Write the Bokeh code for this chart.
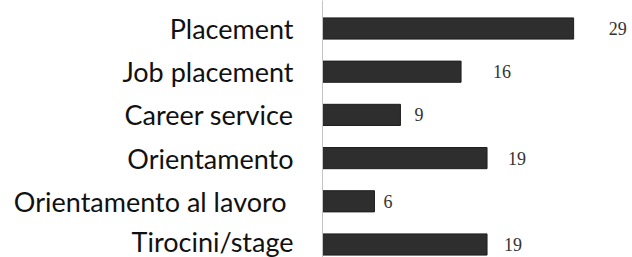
from bokeh.plotting import figure
from bokeh.models import Range1d, FixedTicker, ColumnDataSource
from bokeh.embed import file_html
from bokeh.resources import INLINE
from bokeh.core.properties import value

categories = ["Placement", "Job placement", "Career service", "Orientamento",
              "Orientamento al lavoro ", "Tirocini/stage"]
counts = [29, 16, 9, 19, 6, 19]
label_gap_px = [35, 32, 14, 21, 9, 17]

pos = list(range(len(categories)))
src = ColumnDataSource(dict(y=pos, v=counts, t=[str(c) for c in counts], dx=label_gap_px))

W, H = 632, 257
left = 322
top_c = 28.0
step = 43.2
px_per_unit = 8.66
p = figure(width=W, height=H, output_backend="svg", toolbar_location=None,
           x_range=Range1d(0, (W - left) / px_per_unit),
           y_range=Range1d((H - top_c) / step, -top_c / step),
           min_border_left=left, min_border_right=0, min_border_top=0, min_border_bottom=0)
p.outline_line_color = None
p.grid.visible = False
p.xaxis.visible = False
p.background_fill_color = "white"
p.border_fill_color = "white"

p.hbar(y="y", left=0, right="v", height=0.49, source=src,
       fill_color="#2e2e2e", line_color="#1e1e1e", line_width=1)
p.text(x="v", y="y", text="t", x_offset="dx", source=src,
       text_font=value("Liberation Serif"), text_font_size="18px", text_color="#333333",
       text_align="left", text_baseline="middle")

ya = p.yaxis[0]
ya.ticker = FixedTicker(ticks=pos)
ya.major_label_overrides = {i: c for i, c in zip(pos, categories)}
ya.major_tick_line_color = None
ya.minor_tick_line_color = None
ya.axis_line_color = "#c4c4c4"
ya.axis_line_width = 1
ya.major_label_standoff = 23
ya.major_label_text_font = "Lato"
ya.major_label_text_font_size = "27px"
ya.major_label_text_color = "#111111"

open("out.html", "w").write(file_html(p, INLINE))
